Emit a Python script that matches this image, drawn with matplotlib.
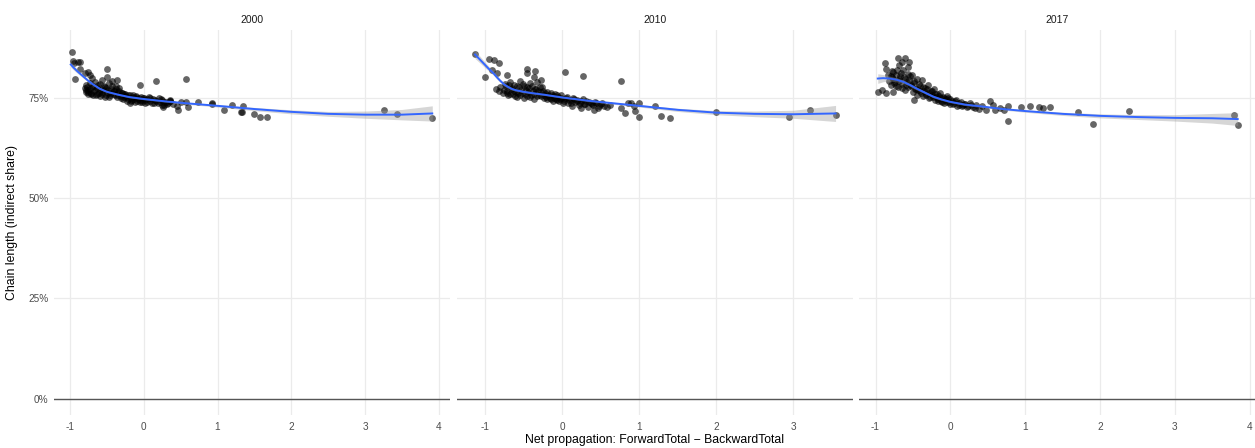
import numpy as np
import matplotlib
matplotlib.use("Agg")
import matplotlib.pyplot as plt

plt.rcParams['font.family'] = ['Liberation Sans', 'DejaVu Sans']

years = ["2000", "2010", "2017"]

# scatter points (x = net propagation, y = indirect share in %)
x_2000 = [-0.97, -0.96, -0.95, -0.89, -0.86, -0.93, -0.86, -0.80, -0.73, -0.76, -0.70,
          -0.80, -0.79, -0.78, -0.76, -0.75, -0.73, -0.72, -0.70, -0.69,
          -0.66, -0.65, -0.64, -0.62, -0.60, -0.59, -0.57, -0.56, -0.54, -0.53, -0.51, -0.50,
          -0.50, -0.49, -0.47, -0.46, -0.44, -0.43, -0.41, -0.40, -0.38, -0.36, -0.36, -0.35,
          -0.33, -0.31, -0.30,
          -0.28, -0.27, -0.25, -0.23, -0.21, -0.19, -0.18, -0.16, -0.14, -0.12, -0.10, -0.08,
          -0.05, -0.04, -0.02, 0.00, 0.02, 0.05, 0.07, 0.09, 0.12, 0.14, 0.17, 0.20, 0.22,
          0.25, 0.28, 0.30, 0.33, 0.36, 0.40,
          -0.05, 0.17, 0.57, 0.46, 0.26, 0.60, 0.57, 0.73, 0.92, 1.09, 1.20, 1.32, 1.34,
          1.50, 1.57, 1.67, 3.26, 3.43, 3.91, 0.93, 1.33, 0.24, 0.45, 0.50, 0.36,
          -0.79, -0.77, -0.75, -0.73, -0.71, -0.69, -0.67, -0.65, -0.63, -0.61, -0.59, -0.57,
          -0.55, -0.53, -0.51, -0.49, -0.47, -0.45, -0.43, -0.41, -0.39, -0.37, -0.35, -0.33,
          -0.31, -0.29, -0.27, -0.25, -0.23, -0.21, -0.19, -0.17, -0.15, -0.13, -0.11, -0.09,
          -0.07, -0.05, -0.03, -0.01, 0.01, 0.04, 0.08, 0.11, 0.15, 0.19, 0.23, 0.27, 0.31, 0.35]
y_2000 = [86.3, 84.2, 83.6, 83.8, 83.9, 79.7, 82.3, 81.1, 80.7, 81.5, 80.0,
          77.5, 76.5, 78.2, 76.0, 77.0, 78.6, 76.3, 77.6, 75.8,
          79.0, 77.2, 76.0, 78.3, 75.5, 77.0, 79.5, 76.4, 78.0, 75.2, 77.4, 82.1,
          80.2, 76.1, 78.6, 75.6, 77.1, 79.2, 75.9, 76.8, 78.0, 79.4, 75.3, 76.5,
          77.5, 75.0, 76.2,
          74.6, 76.0, 75.4, 74.3, 75.8, 73.7, 75.0, 74.5, 75.6, 74.0, 75.1, 74.6,
          73.9, 75.3, 74.4, 74.9, 73.8, 74.6, 75.2, 74.1, 74.7, 73.6, 74.3, 74.9, 73.9,
          74.4, 73.2, 74.0, 73.6, 74.2, 73.4,
          78.3, 79.3, 79.7, 71.9, 72.8, 72.7, 74.0, 74.0, 73.4, 71.9, 73.2, 71.4, 72.9,
          70.9, 70.1, 70.3, 72.0, 70.9, 70.0, 73.6, 71.5, 73.3, 73.0, 73.9, 74.4,
          76.9, 77.8, 76.4, 77.2, 76.0, 78.0, 76.7, 75.7, 77.5, 76.2, 78.5, 75.9,
          76.9, 77.8, 75.8, 77.0, 75.3, 76.3, 77.9, 76.6, 75.6, 77.3, 75.7, 76.7,
          75.5, 76.3, 75.1, 76.0, 75.3, 74.8, 75.6, 74.3, 75.2, 74.7, 75.5, 74.2,
          75.0, 74.5, 74.0, 75.0, 74.4, 74.0, 74.9, 73.8, 74.5, 73.7, 74.6, 73.9, 73.5, 74.1]

x_2010 = [-1.13, -1.00, -0.95, -0.89, -0.82, -0.91, -0.84, -0.71, -0.45, -0.35, -0.45, -0.37,
          -0.28, 0.04, 0.27, 0.77,
          -0.86, -0.82, -0.80, -0.77,
          -0.74, -0.72, -0.70, -0.68, -0.66, -0.64, -0.62, -0.60, -0.58, -0.56, -0.54, -0.52,
          -0.50, -0.49, -0.47, -0.45, -0.43, -0.41, -0.40, -0.38, -0.36, -0.34, -0.32, -0.30,
          -0.28, -0.26, -0.24, -0.22,
          -0.20, -0.18, -0.16, -0.14, -0.12, -0.10, -0.08, -0.06, -0.04, -0.02, 0.01, 0.03,
          0.06, 0.08, 0.11, 0.14, 0.17, 0.20, 0.22, 0.25, 0.28, 0.31, 0.34, 0.37, 0.40, 0.43,
          0.46, 0.50, 0.54, 0.58, 0.62,
          0.76, 0.86, 0.89, 0.93, 1.00, 0.95, 0.82, 1.00, 1.21, 1.29, 1.40, 2.00, 2.95, 3.22,
          3.55, 0.13, 0.24, 0.41,
          -0.76, -0.73, -0.71, -0.69, -0.67, -0.65, -0.63, -0.61, -0.59, -0.57, -0.55, -0.53,
          -0.51, -0.48, -0.46, -0.44, -0.42, -0.39, -0.37, -0.35, -0.33, -0.31, -0.29, -0.27,
          -0.25, -0.23, -0.21, -0.19, -0.17, -0.15, -0.13, -0.11, -0.09, -0.07, -0.05, -0.03,
          -0.01, 0.02, 0.05, 0.09, 0.12, 0.16, 0.19, 0.23, 0.27, 0.30, 0.35, 0.39, 0.44, 0.48, 0.52]
y_2010 = [85.9, 80.2, 84.6, 84.4, 83.6, 81.9, 81.1, 80.7, 82.3, 81.7, 81.3, 80.1,
          79.4, 81.4, 80.5, 79.2,
          77.3, 76.6, 77.8, 76.1,
          78.5, 76.8, 75.6, 79.0, 77.3, 75.9, 78.2, 76.5, 75.3, 77.6, 79.1, 76.1,
          74.9, 78.0, 76.9, 75.5, 77.4, 78.6, 75.8, 76.7, 74.8, 77.1, 79.0, 75.6,
          76.4, 77.6, 75.0, 76.1,
          74.6, 75.7, 74.9, 76.2, 74.3, 75.4, 74.7, 75.8, 74.1, 75.0, 73.8, 74.6,
          75.3, 73.6, 74.4, 75.0, 73.9, 74.5, 73.2, 74.1, 73.5, 74.3, 72.8, 73.7, 73.1, 74.0,
          72.5, 73.4, 72.9, 72.8, 73.3,
          72.4, 73.6, 73.6, 72.9, 73.8, 71.7, 71.1, 70.2, 72.9, 70.4, 69.9, 71.4, 70.3, 71.9,
          70.6, 72.9, 72.4, 71.9,
          77.0, 77.9, 76.2, 78.1, 76.0, 77.5, 76.8, 75.4, 77.9, 76.3, 75.7, 77.0,
          78.4, 75.9, 77.6, 76.4, 75.3, 77.9, 76.0, 77.2, 75.4, 76.6, 77.8, 75.5,
          76.7, 75.7, 75.1, 76.4, 75.4, 74.6, 75.6, 74.9, 75.9, 74.4, 75.3, 74.7,
          75.6, 74.2, 74.9, 74.4, 73.8, 74.7, 74.1, 73.7, 74.6, 73.4, 74.0, 73.4, 73.6, 72.9, 73.6]

x_2017 = [-0.97, -0.91, -0.86, -0.77, -0.75,
          -0.88, -0.86, -0.77, -0.70, -0.61, -0.57, -0.68, -0.64, -0.55, -0.80,
          -0.82, -0.78, -0.74, -0.72, -0.70, -0.68, -0.66, -0.64, -0.62, -0.60, -0.58, -0.56,
          -0.54, -0.52, -0.50, -0.48, -0.48, -0.46, -0.44, -0.42, -0.40, -0.38, -0.36, -0.34,
          -0.32, -0.30, -0.28, -0.26, -0.24, -0.22, -0.20, -0.18, -0.16, -0.14, -0.12, -0.10,
          -0.08, -0.06, -0.04, -0.02, 0.00, 0.03, 0.06, 0.09, 0.12, 0.15, 0.18, 0.22, 0.26,
          0.30, 0.34, 0.38, 0.42, 0.48, 0.53, 0.57, 0.60, 0.66,
          0.77, 0.77, 0.72, 0.95, 1.06, 1.18, 1.24, 1.33, 1.71, 1.90, 2.39, 3.79, 3.85,
          -0.84, -0.80, -0.78, -0.76, -0.73, -0.71, -0.69, -0.67, -0.65, -0.63, -0.61, -0.59,
          -0.57, -0.55, -0.53, -0.51, -0.49, -0.47, -0.45, -0.43, -0.41, -0.39, -0.37, -0.35,
          -0.33, -0.31, -0.29, -0.27, -0.25, -0.23, -0.21, -0.19, -0.17, -0.15, -0.13, -0.11,
          -0.09, -0.07, -0.05, -0.03, -0.01, 0.02, 0.05, 0.08, 0.11, 0.14, 0.17, 0.20, 0.24,
          0.28, 0.33]
y_2017 = [76.5, 76.9, 76.1, 76.5, 78.6,
          83.6, 82.3, 81.5, 85.0, 84.8, 82.7, 83.1, 84.0, 83.8, 80.5,
          79.2, 80.2, 79.0, 80.8, 77.8, 79.6, 81.2, 78.4, 80.1, 76.9, 79.0, 77.6,
          80.4, 78.2, 76.5, 74.4, 79.1, 77.3, 75.8, 78.4, 76.6, 79.5, 75.4, 77.4,
          76.0, 78.1, 74.9, 76.7, 75.6, 77.2, 74.4, 75.9, 74.8, 76.3, 74.1, 75.2,
          73.7, 74.6, 75.5, 73.9, 74.7, 73.4, 74.2, 73.0, 73.8, 72.9, 73.5, 72.6, 73.6,
          72.7, 73.2, 72.3, 72.9, 71.9, 74.2, 73.2, 71.9, 72.5,
          72.9, 69.2, 72.0, 72.8, 72.9, 72.6, 72.4, 72.8, 71.4, 68.5, 71.8, 70.7, 68.2,
          80.6, 78.2, 81.6, 79.6, 78.0, 81.9, 79.2, 80.5, 77.4, 82.0, 79.8, 78.3,
          81.0, 79.5, 77.9, 80.6, 78.7, 77.1, 79.7, 76.9, 78.0, 76.1, 77.8, 76.8,
          75.6, 77.1, 76.3, 75.3, 76.6, 75.1, 76.0, 75.3, 74.3, 75.4, 74.9, 74.0,
          75.0, 74.4, 74.0, 74.9, 73.5, 74.3, 73.6, 74.4, 73.3, 73.9, 73.1, 73.5, 72.9,
          73.3, 72.5]

# loess fit and its band
fit_x_2000 = [-0.99, -0.95, -0.9, -0.85, -0.8, -0.75, -0.7, -0.6, -0.5, -0.35, -0.2, 0.0, 0.3, 0.6,
              1.0, 1.5, 2.0, 2.5, 3.0, 3.5, 3.91]
fit_y_2000 = [83.3, 82.5, 81.6, 80.8, 80.0, 79.2, 78.5, 77.3, 76.5, 75.8, 75.2, 74.7, 74.1, 73.6,
              73.0, 72.2, 71.5, 71.0, 70.8, 70.8, 71.1]
fit_se_2000 = [0.7, 0.6, 0.5, 0.45, 0.4, 0.35, 0.3, 0.25, 0.2, 0.2, 0.2, 0.2, 0.2, 0.25,
               0.3, 0.4, 0.5, 0.6, 0.9, 1.3, 1.9]

fit_x_2010 = [-1.13, -1.05, -1.0, -0.95, -0.89, -0.84, -0.8, -0.75, -0.7, -0.65, -0.6, -0.5,
              -0.4, -0.24, 0.0, 0.37, 1.0, 1.5, 2.0, 2.5, 3.0, 3.55]
fit_y_2010 = [85.8, 84.2, 83.2, 82.2, 81.1, 80.0, 79.2, 78.3, 77.7, 77.2, 76.9, 76.5,
              76.2, 75.8, 75.1, 74.2, 73.0, 72.0, 71.3, 71.0, 70.9, 71.1]
fit_se_2010 = [1.0, 0.8, 0.7, 0.6, 0.5, 0.45, 0.4, 0.35, 0.3, 0.3, 0.25, 0.25,
               0.2, 0.2, 0.2, 0.2, 0.3, 0.4, 0.5, 0.7, 1.0, 2.0]

fit_x_2017 = [-0.97, -0.9, -0.81, -0.72, -0.63, -0.54, -0.45, -0.34, -0.23, -0.12, 0.0, 0.2,
              0.44, 0.7, 1.0, 1.5, 2.0, 2.5, 3.0, 3.5, 3.84]
fit_y_2017 = [79.8, 79.9, 79.8, 79.5, 79.0, 78.2, 77.3, 76.3, 75.3, 74.6, 74.0, 73.3,
              72.8, 72.2, 71.7, 71.0, 70.5, 70.2, 70.0, 69.9, 69.7]
fit_se_2017 = [1.2, 0.9, 0.6, 0.5, 0.4, 0.35, 0.35, 0.3, 0.3, 0.25, 0.25, 0.25,
               0.25, 0.25, 0.3, 0.4, 0.5, 0.6, 0.8, 1.2, 1.6]

y_ticks = [0, 25, 50, 75]
y_tick_labels = ["0%", "25%", "50%", "75%"]

points = [(x_2000, y_2000), (x_2010, y_2010), (x_2017, y_2017)]
fits = [(fit_x_2000, fit_y_2000, fit_se_2000),
        (fit_x_2010, fit_y_2010, fit_se_2010),
        (fit_x_2017, fit_y_2017, fit_se_2017)]
xlims = [(-1.213, 4.149), (-1.36, 3.775), (-1.217, 4.07)]
xticks = [[-1, 0, 1, 2, 3, 4], [-1, 0, 1, 2, 3], [-1, 0, 1, 2, 3, 4]]

W, H = 1255, 448
fig = plt.figure(figsize=(W / 100, H / 100), dpi=100)
fig.patch.set_facecolor("white")

panel_left = [54.3, 457.3, 859.3]
panel_w = 395.6
top_px, bot_px = 30, 415

for i, year in enumerate(years):
    ax = fig.add_axes([panel_left[i] / W, (H - bot_px) / H, panel_w / W, (bot_px - top_px) / H])
    for s in ax.spines.values():
        s.set_visible(False)
    ax.set_xlim(*xlims[i])
    ax.set_ylim(-4.06, 91.9)
    ax.set_xticks(xticks[i])
    ax.set_yticks(y_ticks)
    ax.grid(True, color="#EBEBEB", lw=0.9)
    ax.set_axisbelow(True)
    ax.tick_params(length=0, labelsize=7.2, labelcolor="#4D4D4D", pad=5)
    ax.set_xticklabels([str(t) for t in xticks[i]])
    if i == 0:
        ax.set_yticklabels(y_tick_labels)
        ax.tick_params(axis="y", pad=4)
    else:
        ax.set_yticklabels([])

    ax.axhline(0, color="#555555", lw=1.0, zorder=2)

    px, py = points[i]
    ax.scatter(px, py, s=24, color="black", alpha=0.6, linewidths=0, zorder=3)

    fx, fy, fse = (np.array(a) for a in fits[i])
    ax.fill_between(fx, fy - fse, fy + fse, color="#999999", alpha=0.4, lw=0, zorder=4)
    ax.plot(fx, fy, color="#3366FF", lw=1.4, zorder=5)

    # facet strip label
    fig.text((panel_left[i] + panel_w / 2) / W, (H - 20) / H, year,
             ha="center", va="center", fontsize=7.5, color="#1A1A1A")

fig.text(12 / W, (H - (top_px + bot_px) / 2) / H, "Chain length (indirect share)",
         rotation=90, ha="center", va="center", fontsize=8.8, color="black")
fig.text((panel_left[0] + panel_left[2] + panel_w) / 2 / W, (H - 440) / H,
         "Net propagation: ForwardTotal \u2212 BackwardTotal",
         ha="center", va="center", fontsize=8.8, color="black")

fig.savefig("out.png", dpi=100, facecolor="white")
